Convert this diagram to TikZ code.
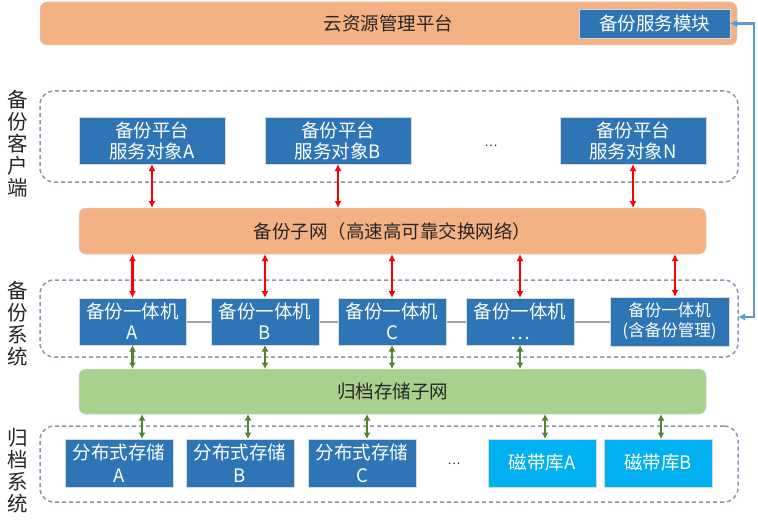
\documentclass[tikz,border=0pt]{standalone}
\usepackage{fontspec}
\setmainfont{Noto Sans CJK SC}
\usetikzlibrary{arrows.meta}
\definecolor{boxblue}{HTML}{2E75B6}
\definecolor{tapeblue}{HTML}{00B0F0}
\definecolor{orng}{HTML}{F4B183}
\definecolor{grn}{HTML}{A9D18E}
\definecolor{dgrn}{HTML}{548235}
\definecolor{dashc}{HTML}{8497B0}
\definecolor{linkblue}{HTML}{5B9BD5}
\definecolor{lgray}{HTML}{A6A6A6}
\definecolor{txt}{HTML}{262626}
\begin{document}
\begin{tikzpicture}[x=1pt,y=-1pt,
  every node/.style={inner sep=0pt, outer sep=0pt, align=center, font=\fontsize{18.5}{21}\selectfont},
  bluebox/.style={fill=boxblue, draw=white!85!black, line width=0.6pt, text=white},
  tapebox/.style={fill=tapeblue, draw=white!85!black, line width=0.6pt, text=white},
  bar/.style={rounded corners=7pt, draw=white!82!black, line width=0.5pt, text=txt},
  grp/.style={draw=dashc, dash pattern=on 4pt off 3pt, line width=1.5pt, rounded corners=14pt},
  side/.style={text=txt, font=\fontsize{20.5}{22}\selectfont},
  redarr/.style={red, line width=2.2pt, {Latex[length=7pt,width=7pt]}-{Latex[length=7pt,width=7pt]}},
  grnarr/.style={dgrn, line width=2.2pt, {Latex[length=6.5pt,width=7pt]}-{Latex[length=6.5pt,width=7pt]}},
  bluearr/.style={linkblue, line width=2.3pt, {Latex[length=7pt,width=7.5pt]}-{Latex[length=7pt,width=7.5pt]}},
  graylink/.style={lgray, line width=1.6pt}
]
\useasboundingbox (0,0) rectangle (758,527);

% top platform
\node[bar, fill=orng, minimum width=697pt, minimum height=43pt] (cloud) at (388.5,23.5) {云资源管理平台};
\node[bluebox, minimum width=151pt, minimum height=29pt] (svc) at (654.5,23.5) {备份服务模块};

% side labels
\node[side] (l1) at (18,144) {备\\份\\客\\户\\端};
\node[side] (l2) at (18,324) {备\\份\\系\\统};
\node[side] (l3) at (18,471) {归\\档\\系\\统};

% group boxes
\node[grp, minimum width=698pt, minimum height=91pt] (gclient) at (389,136.5) {};
\node[grp, minimum width=698pt, minimum height=77pt] (gsys) at (389,318.5) {};
\node[grp, minimum width=698pt, minimum height=76pt] (garch) at (389,464) {};

% clients
\node[bluebox, minimum width=146pt, minimum height=47pt] (ca) at (152,140.5) {备份平台\\服务对象A};
\node[bluebox, minimum width=146pt, minimum height=47pt] (cb) at (338,140.5) {备份平台\\服务对象B};
\node[bluebox, minimum width=146pt, minimum height=47pt] (cn) at (633,140.5) {备份平台\\服务对象N};
\node[text=txt, font=\fontsize{12}{14}\selectfont] (cdots) at (491,146) {…};

% backup subnet
\node[bar, fill=orng, minimum width=627pt, minimum height=46pt] (bnet) at (392.5,231) {备份子网（高速高可靠交换网络）};

% backup machines
\draw[graylink] (132.5,322) -- (669.5,322);
\node[bluebox, minimum width=107pt, minimum height=47pt] (ma) at (132.5,321.5) {备份一体机\\A};
\node[bluebox, minimum width=108pt, minimum height=47pt] (mb) at (265,321.5) {备份一体机\\B};
\node[bluebox, minimum width=108pt, minimum height=47pt] (mc) at (392,321.5) {备份一体机\\C};
\node[bluebox, minimum width=108pt, minimum height=47pt] (md) at (520,321.5) {备份一体机\\…};
\node[bluebox, minimum width=119pt, minimum height=49pt, font=\fontsize{16.5}{20}\selectfont] (mm) at (669.5,321.5) {备份一体机\\(含备份管理)};

% archive subnet
\node[bar, fill=grn, minimum width=627pt, minimum height=45pt] (anet) at (392.5,391.5) {归档存储子网};

% archive storage
\node[bluebox, minimum width=108pt, minimum height=48pt, font=\fontsize{18.5}{23}\selectfont] (sa) at (119,463) {分布式存储\\A};
\node[bluebox, minimum width=108pt, minimum height=48pt, font=\fontsize{18.5}{23}\selectfont] (sb) at (240,463) {分布式存储\\B};
\node[bluebox, minimum width=108pt, minimum height=48pt, font=\fontsize{18.5}{23}\selectfont] (sc) at (362,463) {分布式存储\\C};
\node[text=txt, font=\fontsize{12}{14}\selectfont] (sdots) at (454,464) {…};
\node[tapebox, minimum width=108pt, minimum height=48pt] (ta) at (542,463) {磁带库A};
\node[tapebox, minimum width=108pt, minimum height=48pt] (tb) at (658,463) {磁带库B};

% red arrows
\draw[redarr] (ca.south) -- (ca.south |- bnet.north);
\draw[redarr] (cb.south) -- (cb.south |- bnet.north);
\draw[redarr] (cn.south) -- (cn.south |- bnet.north);
\draw[redarr] (bnet.south -| ma.north) -- (ma.north);
\draw[redarr] (bnet.south -| mb.north) -- (mb.north);
\draw[redarr] (bnet.south -| mc.north) -- (mc.north);
\draw[redarr] (bnet.south -| md.north) -- (md.north);
\draw[redarr] ([xshift=5.5pt]mm.north |- bnet.south) -- ([xshift=5.5pt]mm.north);

% green arrows
\draw[grnarr] (ma.south) -- (ma.south |- anet.north);
\draw[grnarr] (mb.south) -- (mb.south |- anet.north);
\draw[grnarr] (mc.south) -- (mc.south |- anet.north);
\draw[grnarr] (md.south) -- (md.south |- anet.north);
\draw[grnarr] ([xshift=23pt]sa.north |- anet.south) -- ([xshift=23pt]sa.north);
\draw[grnarr] ([xshift=8pt]sb.north |- anet.south) -- ([xshift=8pt]sb.north);
\draw[grnarr] ([xshift=5pt]sc.north |- anet.south) -- ([xshift=5pt]sc.north);
\draw[grnarr] ([xshift=3pt]ta.north |- anet.south) -- ([xshift=3pt]ta.north);
\draw[grnarr] ([xshift=3pt]tb.north |- anet.south) -- ([xshift=3pt]tb.north);

% blue link
\draw[bluearr] (svc.east) -- ++(24,0) |- ([yshift=1.5pt]gsys.east);
\end{tikzpicture}
\end{document}
